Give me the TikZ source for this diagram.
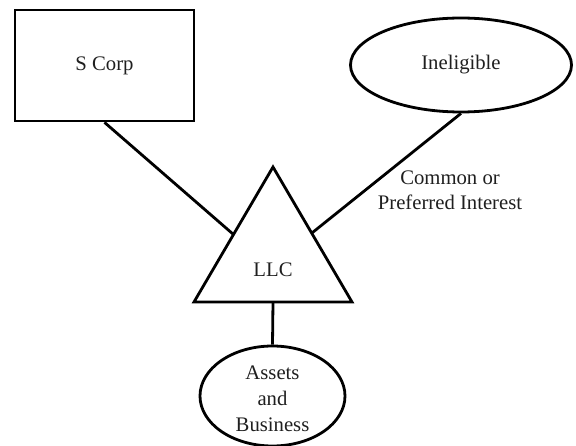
\documentclass[tikz,border=0pt]{standalone}
\usepackage{fontspec}
\setmainfont{Liberation Serif}
\usetikzlibrary{shapes.geometric,calc}
\begin{document}
\begin{tikzpicture}[x=1pt,y=-1pt,
  shapeline/.style={draw=black,line width=2.8pt},
  conn/.style={draw=black,line width=2.8pt},
  txt/.style={font=\fontsize{20.7}{26}\selectfont,text=black!88,inner sep=0pt,align=center}]
\useasboundingbox (0,0) rectangle (576,446);
% S Corp box
\node[shapeline,txt,rectangle,minimum width=179pt,minimum height=111pt] (scorp) at (104.5,65.5) {S Corp};
% Ineligible ellipse
\node[shapeline,txt,ellipse,minimum width=221pt,minimum height=94pt] (inel) at (461,65) {Ineligible};
% LLC triangle
\coordinate (apex) at (273,167);
\coordinate (bl) at (194,302);
\coordinate (br) at (352,302);
\draw[shapeline,line join=miter] (apex) -- (bl) -- (br) -- cycle;
\node[txt] (llc) at (273,270) {LLC};
\coordinate (lside) at ($(apex)!0.5!(bl)$);
\coordinate (rside) at ($(apex)!0.49!(br)$);
\coordinate (base) at ($(bl)!0.5!(br)$);
% Assets ellipse
\node[shapeline,ellipse,minimum width=145pt,minimum height=100pt,inner sep=0pt] (assets) at (272.5,396) {};
\node[txt,font=\fontsize{20.7}{26}\selectfont] (assetstext) at (272.5,399) {Assets\\and\\Business};
% connectors
\draw[conn] (scorp.south) -- (lside);
\draw[conn] (inel.south) -- (rside);
\draw[conn] (base) -- (assets.north);
% edge label
\node[txt,font=\fontsize{20.7}{25}\selectfont] (lbl) at (450,190) {Common or\\Preferred Interest};
\end{tikzpicture}
\end{document}
